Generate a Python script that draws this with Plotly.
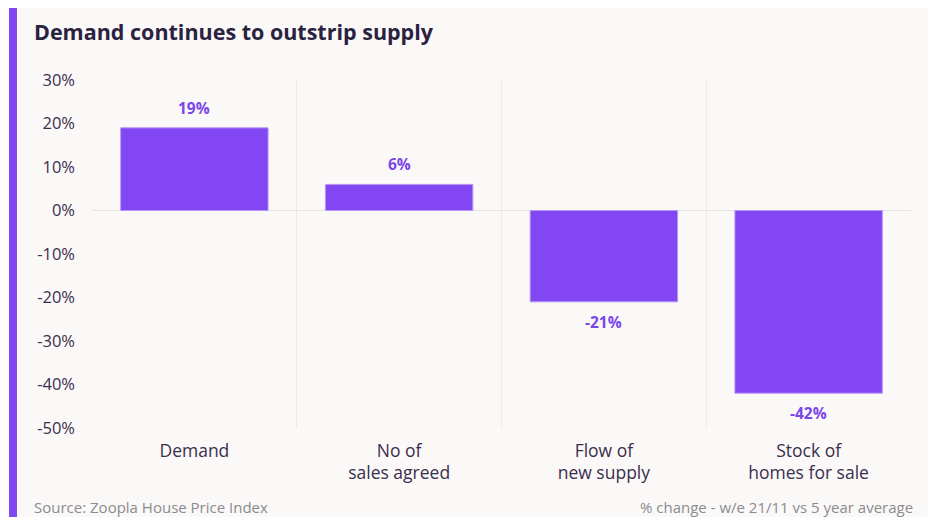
import plotly.graph_objects as go

categories = ["Demand", "No of<br>sales agreed", "Flow of<br>new supply", "Stock of<br>homes for sale"]
values = [19, 6, -21, -42]
labels = ["19%", "6%", "-21%", "-42%"]
ytick_vals = [30, 20, 10, 0, -10, -20, -30, -40, -50]
ytick_text = ["30%", "20%", "10%", "0%", "-10%", "-20%", "-30%", "-40%", "-50%"]

PURPLE = "#8247F2"
DARK = "#3a2e4d"
FONT = "'Open Sans', sans-serif"

fig = go.Figure()
fig.add_trace(go.Bar(
    x=categories, y=values,
    marker=dict(color=PURPLE, line=dict(color="#b896f7", width=1)),
    hoverinfo="skip",
))

annotations = []
for c, v, t in zip(categories, values, labels):
    annotations.append(dict(
        x=c, y=v, text=f"<b>{t}</b>", showarrow=False, xanchor="center", yanchor="middle",
        yshift=20 if v >= 0 else -20,
        font=dict(family=FONT, size=15.5, color="#7c46ea"),
    ))

annotations += [
    dict(text="<b>Demand continues to outstrip supply</b>", xref="paper", yref="paper",
         x=-0.073, y=1.138, xanchor="left", yanchor="middle", showarrow=False,
         font=dict(size=21.5, color="#2b2140", family=FONT)),
    dict(text="Source: Zoopla House Price Index", xref="paper", yref="paper",
         x=-0.073, y=-0.227, xanchor="left", yanchor="middle", showarrow=False,
         font=dict(size=15, color="#8c8a8e", family=FONT)),
    dict(text="% change - w/e 21/11 vs 5 year average", xref="paper", yref="paper",
         x=1.005, y=-0.227, xanchor="right", yanchor="middle", showarrow=False,
         font=dict(size=15, color="#8c8a8e", family=FONT)),
]

fig.update_layout(
    width=931, height=517,
    margin=dict(l=92, r=20, t=80, b=89),
    paper_bgcolor="white", plot_bgcolor="rgba(0,0,0,0)",
    bargap=0.28, showlegend=False,
    font=dict(family=FONT, color=DARK),
    xaxis=dict(type="category", tickson="boundaries", showgrid=True, gridcolor="#eeecea",
               gridwidth=1, ticks="", showline=False, zeroline=False,
               tickfont=dict(size=17.5, color=DARK), ticklabelstandoff=10),
    yaxis=dict(range=[-50, 30], tickvals=ytick_vals, ticktext=ytick_text, showgrid=False,
               zeroline=True, zerolinecolor="#e6e3e3", zerolinewidth=1,
               tickfont=dict(size=16.5, color=DARK), ticks="", ticklabelstandoff=16),
    shapes=[
        dict(type="rect", xref="paper", yref="paper", x0=-0.0916, x1=1.0208, y0=-0.26, y1=1.207,
             fillcolor="#faf9f8", line=dict(width=0), layer="below"),
        dict(type="rect", xref="paper", yref="paper", x0=-0.1013, x1=-0.0916, y0=-0.26, y1=1.207,
             fillcolor="#8247F2", line=dict(width=0), layer="below"),
    ],
    annotations=annotations,
)

fig.write_html("out.html")
